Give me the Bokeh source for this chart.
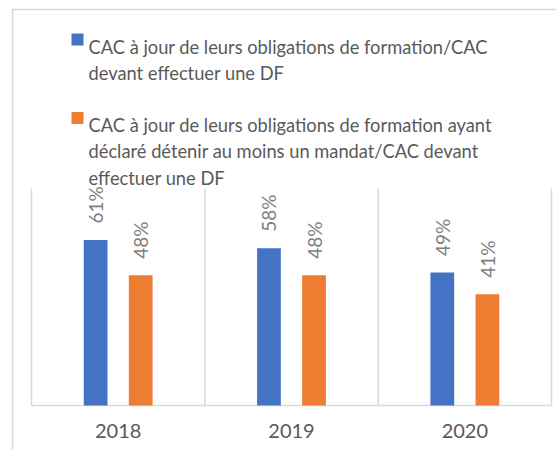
import math
import numpy as np
from bokeh.plotting import figure
from bokeh.models import Range1d, LinearAxis, FixedTicker, ColumnDataSource
from bokeh.core.properties import value
from bokeh.embed import file_html
from bokeh.resources import INLINE

# ---------------- data ----------------
years = ["2018", "2019", "2020"]
blue_values = [61, 58, 49]      # CAC à jour ... / CAC devant effectuer une DF
orange_values = [48, 48, 41]    # CAC à jour ... ayant déclaré détenir au moins un mandat / ...
series_names = [
    "CAC à jour de leurs obligations de formation/CAC\ndevant effectuer une DF",
    "CAC à jour de leurs obligations de formation ayant\ndéclaré détenir au moins un mandat/CAC devant\neffectuer une DF",
]
series_colors = ["#4472C4", "#ED7D31"]
y_max = 80

# ---------------- layout (pixels inside the figure) ----------------
FIG_W, FIG_H = 556, 450
PX_L, PX_R = 31, 551          # first / last category separator
PY_BASE, PY_TOP = 405, 188    # baseline / top of value area
CAT_W = (PX_R - PX_L) / len(years)
PPU = (PY_BASE - PY_TOP) / y_max

def X(px):
    return (px - PX_L) / CAT_W - 0.5

def Y(py):
    return (PY_BASE - py) / PPU

FONT = value("Lato")
GRID = "#D9D9D9"

p = figure(width=FIG_W, height=FIG_H,
           x_range=Range1d(X(0), X(FIG_W)), y_range=Range1d(Y(FIG_H), Y(0)),
           output_backend="svg", toolbar_location=None,
           x_axis_location=None, y_axis_location=None,
           min_border=0, min_border_left=0, min_border_right=0,
           min_border_top=0, min_border_bottom=0)
p.outline_line_color = None
p.xgrid.visible = False
p.ygrid.visible = False
p.background_fill_color = "white"
p.border_fill_color = "white"

# outer chart border (left and top)
p.segment(x0=[X(12), X(12)], y0=[Y(9), Y(9)], x1=[X(12), X(FIG_W)], y1=[Y(FIG_H), Y(9)],
          line_color=GRID, line_width=1.5)

# category separators and baseline
n = len(years)
idx = np.arange(n)
bounds = np.arange(n + 1) - 0.5
p.segment(x0=bounds, y0=[0] * (n + 1), x1=bounds, y1=[y_max] * (n + 1),
          line_color=GRID, line_width=1.5)
p.segment(x0=[bounds[0]], y0=[0], x1=[bounds[-1]], y1=[0], line_color=GRID, line_width=1.5)

# bars
bar_w = 0.137
offs = [-0.13, 0.13]
for k, vals in enumerate([blue_values, orange_values]):
    src = ColumnDataSource(dict(x=idx + offs[k], top=vals,
                                lab=[f"{v}%" for v in vals],
                                ly=[v + 16.5 / PPU for v in vals]))
    p.vbar(x="x", top="top", bottom=0, width=bar_w, source=src,
           fill_color=series_colors[k], line_color=None)
    p.text(x="x", y="ly", text="lab", source=src, angle=math.pi / 2,
           text_align="left", text_baseline="middle",
           text_font=FONT, text_font_size="19px", text_color="#7F7F7F")

# legend (manual, multi-line)
line_h = 26.2
base = 46.0
for k, name in enumerate(series_names):
    lines = name.split("\n")
    p.scatter(x=[X(77)], y=[Y(base - 7)], marker="square", size=12,
              fill_color=series_colors[k], line_color=None)
    p.text(x=[X(88)] * len(lines), y=[Y(base + j * line_h) for j in range(len(lines))],
           text=lines, text_align="left", text_baseline="alphabetic",
           text_font=FONT, text_font_size="18.3px", text_color="#595959")
    base += (len(lines) + 1) * line_h

# category axis at y = 0
xaxis = LinearAxis(ticker=FixedTicker(ticks=list(idx)),
                   major_label_overrides={int(i): y for i, y in zip(idx, years)},
                   fixed_location=0)
xaxis.axis_line_color = None
xaxis.major_tick_line_color = None
xaxis.minor_tick_line_color = None
xaxis.major_label_standoff = 12
xaxis.major_label_text_font = "Lato"
xaxis.major_label_text_font_size = "20px"
xaxis.major_label_text_color = "#595959"
p.add_layout(xaxis, "below")

open("out.html", "w").write(file_html(p, INLINE))
